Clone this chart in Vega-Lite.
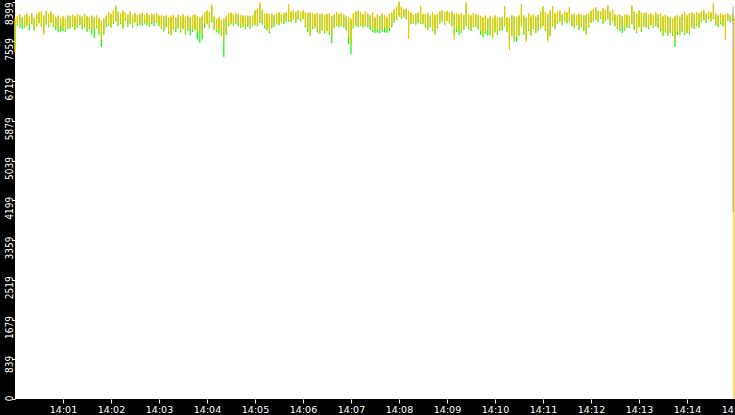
{
  "$schema": "https://vega.github.io/schema/vega-lite/v6.json",
  "width": 720,
  "height": 399,
  "autosize": {"type": "none"},
  "padding": {"left": 15, "top": 0, "right": 0, "bottom": 16},
  "background": "black",
  "config": {
    "view": {"fill": "white", "stroke": null},
    "axis": {"domain": false, "grid": false, "labelColor": "white", "tickColor": "white", "tickWidth": 1, "labelOverlap": false}
  },
  "datasets": {
    "samples": [
      {"t":0,"o1":7330,"o2":8060,"g1":7400,"g2":8000},
      {"t":3,"o1":7930,"o2":8100,"g1":7900,"g2":8080},
      {"t":6,"o1":7880,"o2":8140,"g1":7850,"g2":8110},
      {"t":9,"o1":7960,"o2":8075,"g1":7820,"g2":8060},
      {"t":12,"o1":7840,"o2":8120,"g1":7860,"g2":8100},
      {"t":15,"o1":7920,"o2":8160,"g1":7890,"g2":8130},
      {"t":18,"o1":7870,"o2":8090,"g1":7800,"g2":8050},
      {"t":21,"o1":7950,"o2":8130,"g1":7930,"g2":8150},
      {"t":24,"o1":7820,"o2":8070,"g1":7790,"g2":8040},
      {"t":27,"o1":7900,"o2":8150,"g1":7880,"g2":8120},
      {"t":30,"o1":7960,"o2":8180,"g1":7940,"g2":8160},
      {"t":33,"o1":7850,"o2":8200,"g1":7880,"g2":8170},
      {"t":36,"o1":7695,"o2":8120,"g1":7740,"g2":8090},
      {"t":39,"o1":7940,"o2":8190,"g1":7910,"g2":8210},
      {"t":42,"o1":7880,"o2":8150,"g1":7860,"g2":8130},
      {"t":45,"o1":7970,"o2":8200,"g1":7950,"g2":8180},
      {"t":48,"o1":7900,"o2":8140,"g1":7870,"g2":8120},
      {"t":51,"o1":7860,"o2":8090,"g1":7800,"g2":8060},
      {"t":54,"o1":7800,"o2":8110,"g1":7760,"g2":8080},
      {"t":57,"o1":7880,"o2":8060,"g1":7770,"g2":8040},
      {"t":60,"o1":7830,"o2":8100,"g1":7780,"g2":8080},
      {"t":63,"o1":7790,"o2":8050,"g1":7760,"g2":8030},
      {"t":66,"o1":7870,"o2":8110,"g1":7820,"g2":8090},
      {"t":69,"o1":7850,"o2":8080,"g1":7830,"g2":8100},
      {"t":72,"o1":7900,"o2":8130,"g1":7870,"g2":8110},
      {"t":75,"o1":7820,"o2":8100,"g1":7800,"g2":8070},
      {"t":78,"o1":7880,"o2":8140,"g1":7850,"g2":8120},
      {"t":81,"o1":7930,"o2":8120,"g1":7900,"g2":8100},
      {"t":84,"o1":7840,"o2":8090,"g1":7810,"g2":8070},
      {"t":87,"o1":7890,"o2":8130,"g1":7860,"g2":8140},
      {"t":90,"o1":7800,"o2":8100,"g1":7760,"g2":8080},
      {"t":93,"o1":7860,"o2":8075,"g1":7820,"g2":8060},
      {"t":96,"o1":7780,"o2":8110,"g1":7700,"g2":8090},
      {"t":99,"o1":7820,"o2":8080,"g1":7631,"g2":8050},
      {"t":102,"o1":7870,"o2":8120,"g1":7840,"g2":8100},
      {"t":105,"o1":7760,"o2":8060,"g1":7700,"g2":8040},
      {"t":108,"o1":7600,"o2":8000,"g1":7441,"g2":7980},
      {"t":111,"o1":7750,"o2":8050,"g1":7700,"g2":8030},
      {"t":114,"o1":7880,"o2":8120,"g1":7860,"g2":8100},
      {"t":117,"o1":7920,"o2":8180,"g1":7890,"g2":8160},
      {"t":120,"o1":7870,"o2":8150,"g1":7850,"g2":8130},
      {"t":123,"o1":7950,"o2":8220,"g1":7930,"g2":8200},
      {"t":126,"o1":8000,"o2":8329,"g1":7980,"g2":8300},
      {"t":129,"o1":7900,"o2":8200,"g1":7880,"g2":8180},
      {"t":132,"o1":7960,"o2":8160,"g1":7930,"g2":8140},
      {"t":135,"o1":7850,"o2":8220,"g1":7830,"g2":8190},
      {"t":138,"o1":8010,"o2":8180,"g1":7990,"g2":8160},
      {"t":141,"o1":7900,"o2":8140,"g1":7870,"g2":8120},
      {"t":144,"o1":7950,"o2":8200,"g1":7930,"g2":8170},
      {"t":147,"o1":7870,"o2":8130,"g1":7850,"g2":8110},
      {"t":150,"o1":7990,"o2":8170,"g1":7960,"g2":8150},
      {"t":153,"o1":7920,"o2":8120,"g1":7880,"g2":8100},
      {"t":156,"o1":7950,"o2":8150,"g1":7900,"g2":8130},
      {"t":159,"o1":7930,"o2":8170,"g1":7890,"g2":8140},
      {"t":162,"o1":7980,"o2":8130,"g1":7940,"g2":8110},
      {"t":165,"o1":7940,"o2":8160,"g1":7900,"g2":8150},
      {"t":168,"o1":7900,"o2":8120,"g1":7870,"g2":8100},
      {"t":171,"o1":7960,"o2":8150,"g1":7930,"g2":8130},
      {"t":174,"o1":7930,"o2":8140,"g1":7880,"g2":8120},
      {"t":177,"o1":7970,"o2":8160,"g1":7950,"g2":8140},
      {"t":180,"o1":7910,"o2":8120,"g1":7880,"g2":8100},
      {"t":183,"o1":7850,"o2":8110,"g1":7820,"g2":8090},
      {"t":186,"o1":7800,"o2":8100,"g1":7770,"g2":8080},
      {"t":189,"o1":7880,"o2":8118,"g1":7860,"g2":8090},
      {"t":192,"o1":7750,"o2":8080,"g1":7720,"g2":8060},
      {"t":195,"o1":7690,"o2":8100,"g1":7700,"g2":8070},
      {"t":198,"o1":7840,"o2":8120,"g1":7810,"g2":8100},
      {"t":201,"o1":7800,"o2":8075,"g1":7760,"g2":8050},
      {"t":204,"o1":7860,"o2":8130,"g1":7830,"g2":8110},
      {"t":207,"o1":7780,"o2":8100,"g1":7750,"g2":8080},
      {"t":210,"o1":7850,"o2":8140,"g1":7820,"g2":8120},
      {"t":213,"o1":7720,"o2":8090,"g1":7700,"g2":8070},
      {"t":216,"o1":7800,"o2":8110,"g1":7780,"g2":8090},
      {"t":219,"o1":7860,"o2":8080,"g1":7690,"g2":8060},
      {"t":222,"o1":7790,"o2":8120,"g1":7760,"g2":8100},
      {"t":225,"o1":7830,"o2":8140,"g1":7800,"g2":8120},
      {"t":228,"o1":7760,"o2":8100,"g1":7600,"g2":8080},
      {"t":231,"o1":7800,"o2":8075,"g1":7526,"g2":8050},
      {"t":234,"o1":7700,"o2":8120,"g1":7600,"g2":8090},
      {"t":237,"o1":7900,"o2":8180,"g1":7850,"g2":8160},
      {"t":240,"o1":7950,"o2":8220,"g1":7920,"g2":8200},
      {"t":243,"o1":7880,"o2":8190,"g1":7850,"g2":8170},
      {"t":246,"o1":8000,"o2":8350,"g1":7960,"g2":8300},
      {"t":249,"o1":7820,"o2":8097,"g1":7800,"g2":8070},
      {"t":252,"o1":7780,"o2":8040,"g1":7750,"g2":8020},
      {"t":255,"o1":7800,"o2":8080,"g1":7720,"g2":8060},
      {"t":258,"o1":7700,"o2":8012,"g1":7680,"g2":8000},
      {"t":261,"o1":7590,"o2":8050,"g1":7230,"g2":8030},
      {"t":264,"o1":7750,"o2":8100,"g1":7700,"g2":8080},
      {"t":267,"o1":7910,"o2":8160,"g1":7880,"g2":8140},
      {"t":270,"o1":7950,"o2":8180,"g1":7920,"g2":8150},
      {"t":273,"o1":7910,"o2":8140,"g1":7890,"g2":8120},
      {"t":276,"o1":7960,"o2":8170,"g1":7930,"g2":8150},
      {"t":279,"o1":7920,"o2":8150,"g1":7880,"g2":8130},
      {"t":282,"o1":7880,"o2":8110,"g1":7850,"g2":8090},
      {"t":285,"o1":7900,"o2":8120,"g1":7860,"g2":8100},
      {"t":288,"o1":7850,"o2":8100,"g1":7820,"g2":8080},
      {"t":291,"o1":7890,"o2":8115,"g1":7870,"g2":8090},
      {"t":294,"o1":7860,"o2":8100,"g1":7830,"g2":8080},
      {"t":297,"o1":7900,"o2":8120,"g1":7880,"g2":8100},
      {"t":300,"o1":7920,"o2":8220,"g1":7900,"g2":8200},
      {"t":303,"o1":7906,"o2":8260,"g1":7880,"g2":8240},
      {"t":306,"o1":7980,"o2":8393,"g1":7950,"g2":8350},
      {"t":309,"o1":7940,"o2":8240,"g1":7910,"g2":8220},
      {"t":312,"o1":7880,"o2":8150,"g1":7840,"g2":8130},
      {"t":315,"o1":7820,"o2":8160,"g1":7790,"g2":8140},
      {"t":318,"o1":7760,"o2":8140,"g1":7730,"g2":8120},
      {"t":321,"o1":7860,"o2":8150,"g1":7830,"g2":8130},
      {"t":324,"o1":7900,"o2":8130,"g1":7870,"g2":8110},
      {"t":327,"o1":7950,"o2":8160,"g1":7930,"g2":8140},
      {"t":330,"o1":7930,"o2":8180,"g1":7900,"g2":8160},
      {"t":333,"o1":7980,"o2":8140,"g1":7960,"g2":8120},
      {"t":336,"o1":7940,"o2":8170,"g1":7920,"g2":8150},
      {"t":339,"o1":7990,"o2":8180,"g1":7970,"g2":8160},
      {"t":342,"o1":8000,"o2":8350,"g1":7980,"g2":8300},
      {"t":345,"o1":7980,"o2":8200,"g1":7960,"g2":8180},
      {"t":348,"o1":8030,"o2":8230,"g1":8010,"g2":8210},
      {"t":351,"o1":7970,"o2":8190,"g1":7950,"g2":8170},
      {"t":354,"o1":8040,"o2":8220,"g1":8020,"g2":8200},
      {"t":357,"o1":8000,"o2":8180,"g1":7980,"g2":8160},
      {"t":360,"o1":8050,"o2":8230,"g1":8030,"g2":8210},
      {"t":363,"o1":7900,"o2":8180,"g1":7860,"g2":8160},
      {"t":366,"o1":7800,"o2":8170,"g1":7760,"g2":8150},
      {"t":369,"o1":7700,"o2":8180,"g1":7680,"g2":8160},
      {"t":372,"o1":7850,"o2":8160,"g1":7820,"g2":8140},
      {"t":375,"o1":7880,"o2":8150,"g1":7850,"g2":8130},
      {"t":378,"o1":7780,"o2":8160,"g1":7750,"g2":8140},
      {"t":381,"o1":7740,"o2":8140,"g1":7720,"g2":8120},
      {"t":384,"o1":7820,"o2":8160,"g1":7790,"g2":8140},
      {"t":387,"o1":7760,"o2":8130,"g1":7730,"g2":8110},
      {"t":390,"o1":7800,"o2":8150,"g1":7770,"g2":8130},
      {"t":393,"o1":7740,"o2":8160,"g1":7700,"g2":8140},
      {"t":396,"o1":7700,"o2":8100,"g1":7526,"g2":8080},
      {"t":399,"o1":7860,"o2":8140,"g1":7840,"g2":8120},
      {"t":402,"o1":7900,"o2":8180,"g1":7880,"g2":8160},
      {"t":405,"o1":7880,"o2":8150,"g1":7860,"g2":8130},
      {"t":408,"o1":7910,"o2":8170,"g1":7890,"g2":8150},
      {"t":411,"o1":7870,"o2":8140,"g1":7850,"g2":8120},
      {"t":414,"o1":7820,"o2":8100,"g1":7790,"g2":8080},
      {"t":417,"o1":7650,"o2":8080,"g1":7500,"g2":8060},
      {"t":420,"o1":7500,"o2":8050,"g1":7290,"g2":8030},
      {"t":423,"o1":7860,"o2":8160,"g1":7840,"g2":8140},
      {"t":426,"o1":7900,"o2":8200,"g1":7880,"g2":8180},
      {"t":429,"o1":7880,"o2":8220,"g1":7860,"g2":8200},
      {"t":432,"o1":7910,"o2":8180,"g1":7890,"g2":8160},
      {"t":435,"o1":7870,"o2":8140,"g1":7850,"g2":8120},
      {"t":438,"o1":7900,"o2":8200,"g1":7880,"g2":8180},
      {"t":441,"o1":7880,"o2":8160,"g1":7860,"g2":8140},
      {"t":444,"o1":7860,"o2":8120,"g1":7800,"g2":8100},
      {"t":447,"o1":7800,"o2":8180,"g1":7760,"g2":8160},
      {"t":450,"o1":7830,"o2":8075,"g1":7740,"g2":8060},
      {"t":453,"o1":7790,"o2":8140,"g1":7750,"g2":8120},
      {"t":456,"o1":7820,"o2":8100,"g1":7740,"g2":8080},
      {"t":459,"o1":7800,"o2":8160,"g1":7760,"g2":8140},
      {"t":462,"o1":7850,"o2":8120,"g1":7750,"g2":8100},
      {"t":465,"o1":7800,"o2":8080,"g1":7740,"g2":8060},
      {"t":468,"o1":7840,"o2":8150,"g1":7780,"g2":8130},
      {"t":471,"o1":7900,"o2":8180,"g1":7860,"g2":8160},
      {"t":474,"o1":7980,"o2":8250,"g1":7960,"g2":8230},
      {"t":477,"o1":8040,"o2":8300,"g1":8020,"g2":8280},
      {"t":480,"o1":8100,"o2":8399,"g1":8080,"g2":8399},
      {"t":483,"o1":8060,"o2":8300,"g1":8040,"g2":8280},
      {"t":486,"o1":8097,"o2":8250,"g1":8070,"g2":8230},
      {"t":489,"o1":8050,"o2":8260,"g1":8030,"g2":8240},
      {"t":492,"o1":7610,"o2":8220,"g1":7900,"g2":8200},
      {"t":495,"o1":7950,"o2":8180,"g1":7930,"g2":8160},
      {"t":498,"o1":7970,"o2":8140,"g1":7940,"g2":8120},
      {"t":501,"o1":7930,"o2":8160,"g1":7910,"g2":8140},
      {"t":504,"o1":7960,"o2":8180,"g1":7940,"g2":8160},
      {"t":507,"o1":7950,"o2":8308,"g1":7930,"g2":8280},
      {"t":510,"o1":7940,"o2":8150,"g1":7920,"g2":8130},
      {"t":513,"o1":7880,"o2":8140,"g1":7850,"g2":8120},
      {"t":516,"o1":7820,"o2":8170,"g1":7800,"g2":8150},
      {"t":519,"o1":7900,"o2":8120,"g1":7860,"g2":8100},
      {"t":522,"o1":7800,"o2":8180,"g1":7780,"g2":8160},
      {"t":525,"o1":7695,"o2":8130,"g1":7710,"g2":8110},
      {"t":528,"o1":7860,"o2":8150,"g1":7830,"g2":8130},
      {"t":531,"o1":7960,"o2":8200,"g1":7940,"g2":8180},
      {"t":534,"o1":8000,"o2":8223,"g1":7980,"g2":8200},
      {"t":537,"o1":7930,"o2":8190,"g1":7910,"g2":8170},
      {"t":540,"o1":8012,"o2":8210,"g1":7990,"g2":8190},
      {"t":543,"o1":7960,"o2":8181,"g1":7940,"g2":8160},
      {"t":546,"o1":7900,"o2":8200,"g1":7880,"g2":8180},
      {"t":549,"o1":7589,"o2":8150,"g1":7700,"g2":8130},
      {"t":552,"o1":7800,"o2":8160,"g1":7760,"g2":8140},
      {"t":555,"o1":7850,"o2":8140,"g1":7700,"g2":8120},
      {"t":558,"o1":7760,"o2":8160,"g1":7740,"g2":8140},
      {"t":561,"o1":7820,"o2":8130,"g1":7800,"g2":8110},
      {"t":564,"o1":7900,"o2":8399,"g1":7880,"g2":8360},
      {"t":567,"o1":7850,"o2":8150,"g1":7820,"g2":8130},
      {"t":570,"o1":7800,"o2":8118,"g1":7780,"g2":8100},
      {"t":573,"o1":7880,"o2":8160,"g1":7860,"g2":8140},
      {"t":576,"o1":7906,"o2":8140,"g1":7870,"g2":8120},
      {"t":579,"o1":7840,"o2":8130,"g1":7810,"g2":8110},
      {"t":582,"o1":7780,"o2":8100,"g1":7700,"g2":8080},
      {"t":585,"o1":7700,"o2":8080,"g1":7650,"g2":8060},
      {"t":588,"o1":7750,"o2":8118,"g1":7720,"g2":8090},
      {"t":591,"o1":7800,"o2":8054,"g1":7680,"g2":8040},
      {"t":594,"o1":7720,"o2":8100,"g1":7690,"g2":8080},
      {"t":597,"o1":7650,"o2":8070,"g1":7630,"g2":8050},
      {"t":600,"o1":7780,"o2":8118,"g1":7750,"g2":8090},
      {"t":603,"o1":7740,"o2":8060,"g1":7700,"g2":8040},
      {"t":606,"o1":7800,"o2":8075,"g1":7780,"g2":8060},
      {"t":609,"o1":7820,"o2":8090,"g1":7790,"g2":8070},
      {"t":612,"o1":7900,"o2":8308,"g1":7880,"g2":8280},
      {"t":615,"o1":7780,"o2":8075,"g1":7760,"g2":8060},
      {"t":618,"o1":7377,"o2":8050,"g1":7600,"g2":8030},
      {"t":621,"o1":7700,"o2":8118,"g1":7680,"g2":8100},
      {"t":624,"o1":7600,"o2":8100,"g1":7560,"g2":8080},
      {"t":627,"o1":7650,"o2":8080,"g1":7550,"g2":8060},
      {"t":630,"o1":7700,"o2":8118,"g1":7680,"g2":8100},
      {"t":633,"o1":7900,"o2":8350,"g1":7880,"g2":8320},
      {"t":636,"o1":7750,"o2":8120,"g1":7700,"g2":8100},
      {"t":639,"o1":7550,"o2":8075,"g1":7600,"g2":8060},
      {"t":642,"o1":7800,"o2":8160,"g1":7780,"g2":8140},
      {"t":645,"o1":7700,"o2":8100,"g1":7680,"g2":8080},
      {"t":648,"o1":7850,"o2":8140,"g1":7820,"g2":8120},
      {"t":651,"o1":7750,"o2":8090,"g1":7730,"g2":8070},
      {"t":654,"o1":7820,"o2":8130,"g1":7790,"g2":8110},
      {"t":657,"o1":7850,"o2":8200,"g1":7830,"g2":8180},
      {"t":660,"o1":7900,"o2":8308,"g1":7880,"g2":8280},
      {"t":663,"o1":7800,"o2":8180,"g1":7780,"g2":8160},
      {"t":666,"o1":7550,"o2":8150,"g1":7600,"g2":8130},
      {"t":669,"o1":7700,"o2":8223,"g1":7680,"g2":8200},
      {"t":672,"o1":7900,"o2":8308,"g1":7880,"g2":8280},
      {"t":675,"o1":7850,"o2":8160,"g1":7820,"g2":8140},
      {"t":678,"o1":7950,"o2":8200,"g1":7930,"g2":8180},
      {"t":681,"o1":7990,"o2":8223,"g1":7970,"g2":8200},
      {"t":684,"o1":7927,"o2":8150,"g1":7900,"g2":8130},
      {"t":687,"o1":8012,"o2":8200,"g1":7990,"g2":8180},
      {"t":690,"o1":7960,"o2":8180,"g1":7940,"g2":8160},
      {"t":693,"o1":8000,"o2":8287,"g1":7980,"g2":8260},
      {"t":696,"o1":7900,"o2":8140,"g1":7880,"g2":8120},
      {"t":699,"o1":7850,"o2":8160,"g1":7830,"g2":8140},
      {"t":702,"o1":7930,"o2":8120,"g1":7910,"g2":8100},
      {"t":705,"o1":7840,"o2":8150,"g1":7800,"g2":8130},
      {"t":708,"o1":7890,"o2":8130,"g1":7860,"g2":8110},
      {"t":711,"o1":7800,"o2":8118,"g1":7780,"g2":8100},
      {"t":714,"o1":7695,"o2":8140,"g1":7720,"g2":8120},
      {"t":717,"o1":7870,"o2":8160,"g1":7850,"g2":8140},
      {"t":720,"o1":7970,"o2":8220,"g1":7950,"g2":8200},
      {"t":723,"o1":8000,"o2":8250,"g1":7980,"g2":8230},
      {"t":726,"o1":8030,"o2":8287,"g1":8010,"g2":8260},
      {"t":729,"o1":7990,"o2":8220,"g1":7970,"g2":8200},
      {"t":732,"o1":8050,"o2":8200,"g1":8030,"g2":8180},
      {"t":735,"o1":7950,"o2":8266,"g1":7930,"g2":8240},
      {"t":738,"o1":8000,"o2":8230,"g1":7980,"g2":8210},
      {"t":741,"o1":8040,"o2":8329,"g1":8020,"g2":8300},
      {"t":744,"o1":7927,"o2":8200,"g1":7900,"g2":8180},
      {"t":747,"o1":8020,"o2":8240,"g1":8000,"g2":8220},
      {"t":750,"o1":7900,"o2":8139,"g1":7880,"g2":8120},
      {"t":753,"o1":7850,"o2":8120,"g1":7820,"g2":8100},
      {"t":756,"o1":7800,"o2":8139,"g1":7780,"g2":8120},
      {"t":759,"o1":7880,"o2":8100,"g1":7737,"g2":8080},
      {"t":762,"o1":7820,"o2":8130,"g1":7790,"g2":8110},
      {"t":765,"o1":7900,"o2":8139,"g1":7850,"g2":8120},
      {"t":768,"o1":7860,"o2":8110,"g1":7840,"g2":8090},
      {"t":771,"o1":7950,"o2":8329,"g1":7930,"g2":8300},
      {"t":774,"o1":7850,"o2":8200,"g1":7800,"g2":8180},
      {"t":777,"o1":7760,"o2":8160,"g1":7737,"g2":8140},
      {"t":780,"o1":7880,"o2":8223,"g1":7860,"g2":8200},
      {"t":783,"o1":7800,"o2":8180,"g1":7760,"g2":8160},
      {"t":786,"o1":7900,"o2":8160,"g1":7870,"g2":8140},
      {"t":789,"o1":7880,"o2":8181,"g1":7850,"g2":8160},
      {"t":792,"o1":7843,"o2":8140,"g1":7820,"g2":8120},
      {"t":795,"o1":7927,"o2":8160,"g1":7900,"g2":8140},
      {"t":798,"o1":7870,"o2":8120,"g1":7850,"g2":8100},
      {"t":801,"o1":7900,"o2":8181,"g1":7880,"g2":8160},
      {"t":804,"o1":7860,"o2":8140,"g1":7840,"g2":8120},
      {"t":807,"o1":7800,"o2":8160,"g1":7770,"g2":8140},
      {"t":810,"o1":7720,"o2":8100,"g1":7674,"g2":8080},
      {"t":813,"o1":7780,"o2":8130,"g1":7750,"g2":8110},
      {"t":816,"o1":7700,"o2":8097,"g1":7680,"g2":8080},
      {"t":819,"o1":7760,"o2":8080,"g1":7740,"g2":8060},
      {"t":822,"o1":7700,"o2":8054,"g1":7674,"g2":8040},
      {"t":825,"o1":7590,"o2":8100,"g1":7441,"g2":8080},
      {"t":828,"o1":7780,"o2":8118,"g1":7700,"g2":8100},
      {"t":831,"o1":7720,"o2":8090,"g1":7690,"g2":8070},
      {"t":834,"o1":7800,"o2":8150,"g1":7760,"g2":8130},
      {"t":837,"o1":7720,"o2":8181,"g1":7695,"g2":8160},
      {"t":840,"o1":7780,"o2":8120,"g1":7740,"g2":8100},
      {"t":843,"o1":7740,"o2":8160,"g1":7710,"g2":8140},
      {"t":846,"o1":7880,"o2":8181,"g1":7850,"g2":8160},
      {"t":849,"o1":7843,"o2":8150,"g1":7820,"g2":8130},
      {"t":852,"o1":7906,"o2":8181,"g1":7880,"g2":8160},
      {"t":855,"o1":7870,"o2":8160,"g1":7850,"g2":8140},
      {"t":858,"o1":7990,"o2":8200,"g1":7970,"g2":8180},
      {"t":861,"o1":8020,"o2":8223,"g1":8000,"g2":8200},
      {"t":864,"o1":7970,"o2":8160,"g1":7950,"g2":8140},
      {"t":867,"o1":8054,"o2":8200,"g1":8030,"g2":8180},
      {"t":870,"o1":8000,"o2":8180,"g1":7980,"g2":8160},
      {"t":873,"o1":8050,"o2":8371,"g1":8030,"g2":8340},
      {"t":876,"o1":7930,"o2":8160,"g1":7900,"g2":8140},
      {"t":879,"o1":7880,"o2":8118,"g1":7864,"g2":8100},
      {"t":882,"o1":7950,"o2":8160,"g1":7920,"g2":8140},
      {"t":885,"o1":7900,"o2":8130,"g1":7880,"g2":8110},
      {"t":888,"o1":7589,"o2":8140,"g1":7800,"g2":8120},
      {"t":891,"o1":8012,"o2":8160,"g1":7990,"g2":8140},
      {"t":894,"o1":7980,"o2":8118,"g1":7960,"g2":8100},
      {"t":897,"o1":8012,"o2":8150,"g1":7990,"g2":8130}
    ]
  },
  "encoding": {
    "x": {
      "field": "t",
      "type": "quantitative",
      "scale": {"domain": [0, 900], "nice": false},
      "title": null,
      "axis": {
        "values": [60, 120, 180, 240, 300, 360, 420, 480, 540, 600, 660, 720, 780, 840, 900],
        "tickCount": 30,
        "labelExpr": "'14:' + (datum.value < 600 ? '0' : '') + (datum.value / 60)",
        "labelFont": "DejaVu Sans",
        "labelFontSize": 9.5,
        "labelBaseline": "top",
        "tickSize": 4,
        "labelPadding": 1,
        "labelFlush": false,
        "labelOverlap": false,
        "labelBound": false
      }
    }
  },
  "layer": [
    {
      "data": {"name": "samples"},
      "mark": {"type": "rule", "color": "#00FF00", "strokeWidth": 1.2},
      "encoding": {
        "y": {
          "field": "g1",
          "type": "quantitative",
          "title": null,
          "scale": {"domain": [0, 8435], "nice": false},
          "axis": {
            "values": [0, 839.9, 1679.8, 2519.7, 3359.6, 4199.5, 5039.4, 5879.3, 6719.2, 7559.1, 8399],
            "tickCount": 30,
            "labelExpr": "floor(datum.value)",
            "labelAngle": -90,
            "labelAlign": "right",
            "labelBaseline": "alphabetic",
            "labelOffset": {"condition": {"test": "datum.value > 8000", "value": 0}, "value": -4},
            "labelFont": "DejaVu Sans Condensed",
            "labelFontSize": 10,
            "tickSize": 3,
            "labelPadding": 0,
            "labelOverlap": false,
            "labelBound": false,
            "labelFlush": false
          }
        },
        "y2": {"field": "g2"}
      }
    },
    {
      "data": {"name": "samples"},
      "mark": {"type": "rule", "color": "#FFC000", "strokeWidth": 1.2},
      "encoding": {
        "y": {"field": "o1", "type": "quantitative", "title": null},
        "y2": {"field": "o2"}
      }
    },
    {
      "data": {"values": [{"t": 898.8, "lo": 0, "hi": 8050}]},
      "mark": {"type": "rule", "color": "#FFC000", "strokeWidth": 1.2},
      "encoding": {
        "y": {"field": "lo", "type": "quantitative", "title": null},
        "y2": {"field": "hi"}
      }
    },
    {
      "data": {"values": [{"t": 897.6, "lo": 3950, "hi": 8300}]},
      "mark": {"type": "rule", "color": "#A0A0A0", "strokeWidth": 1},
      "encoding": {
        "y": {"field": "lo", "type": "quantitative", "title": null},
        "y2": {"field": "hi"}
      }
    }
  ]
}
